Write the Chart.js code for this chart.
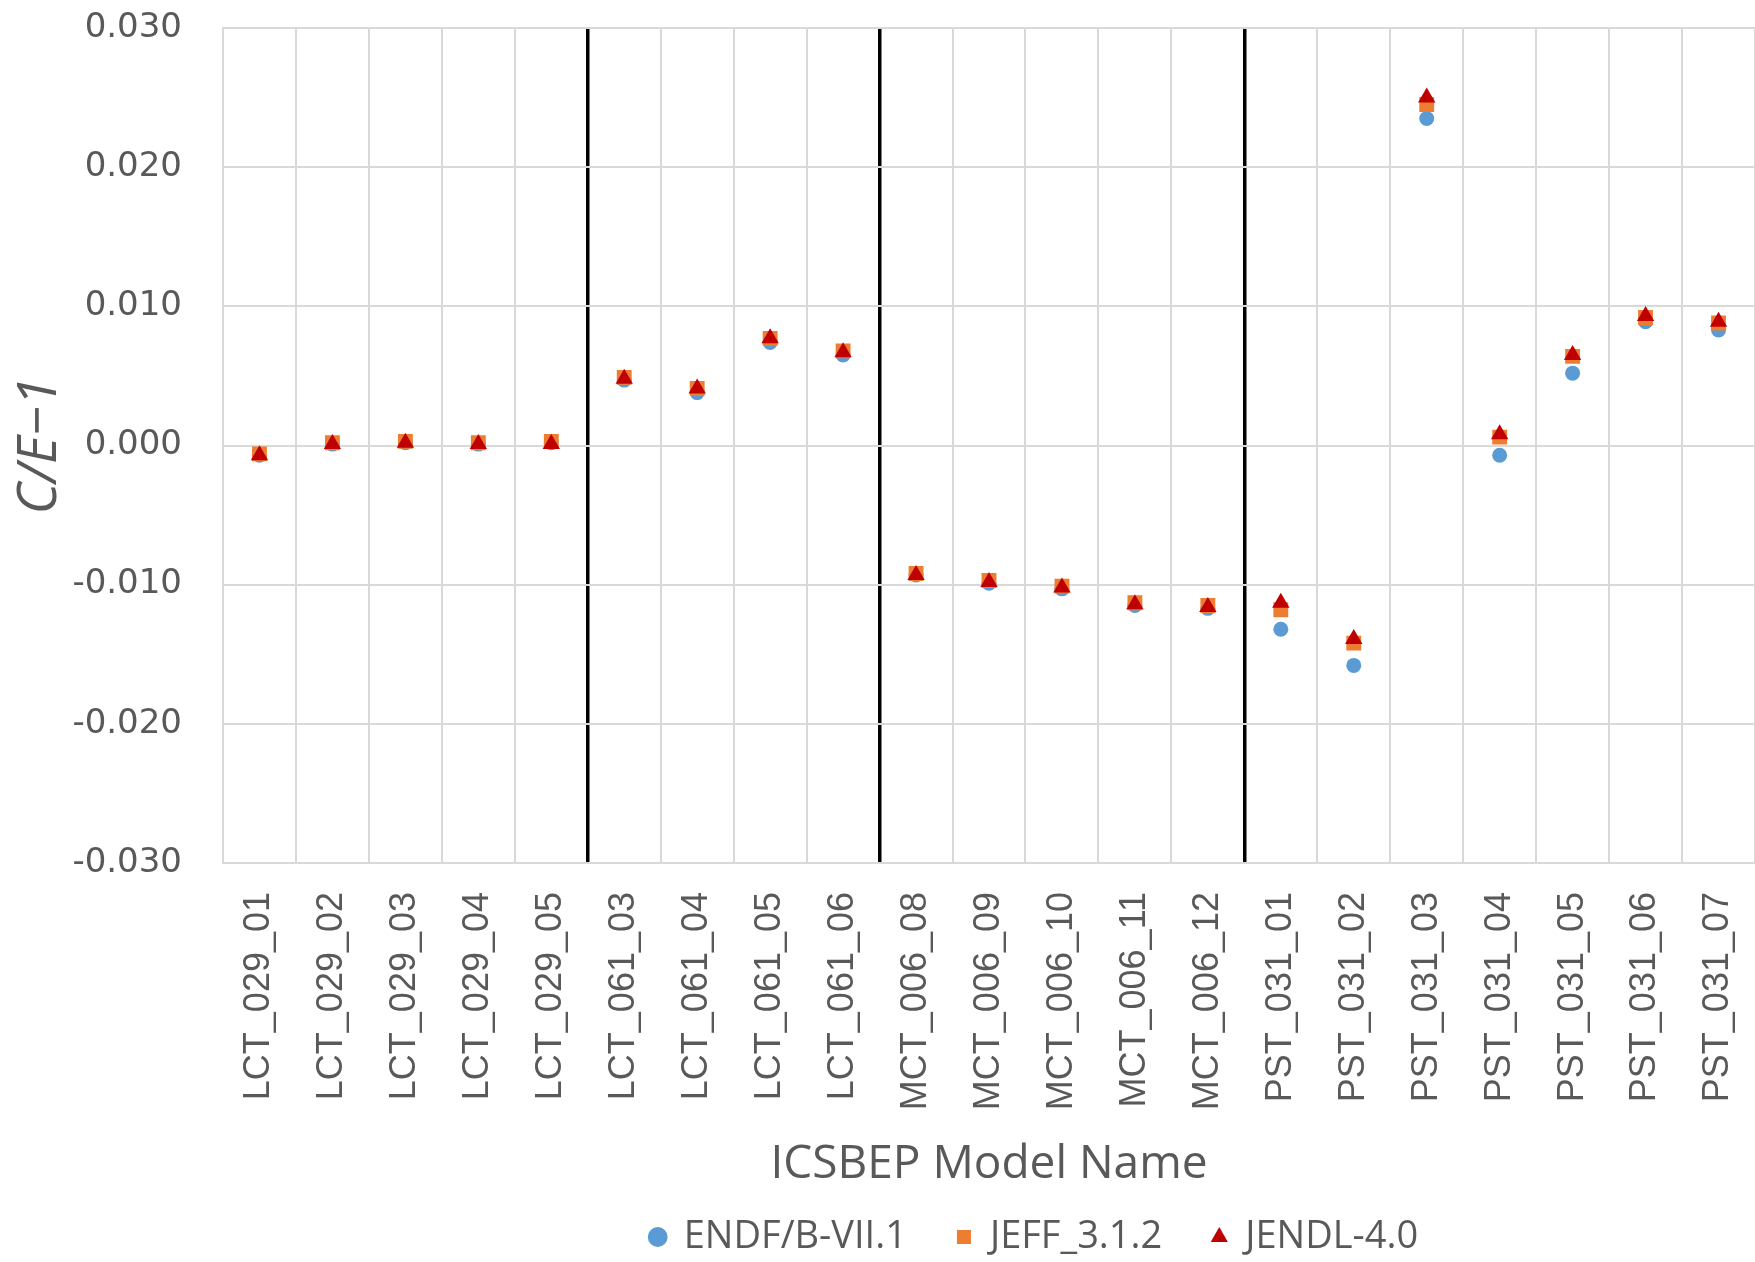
<!DOCTYPE html>
<html>
<head>
<meta charset="utf-8">
<script src="https://cdn.jsdelivr.net/npm/chart.js@4.4.1/dist/chart.umd.min.js"></script>
<style>
  html, body { margin: 0; padding: 0; background: #fff; }
  #wrap { width: 1755px; height: 1262px; }
</style>
</head>
<body>
<div id="wrap"><canvas id="ceChart" width="1755" height="1262"></canvas></div>
<script>
'use strict'

// benchmark models (x axis)
const categories = [
    'LCT_029_01', 'LCT_029_02', 'LCT_029_03', 'LCT_029_04', 'LCT_029_05',
    'LCT_061_03', 'LCT_061_04', 'LCT_061_05', 'LCT_061_06',
    'MCT_006_08', 'MCT_006_09', 'MCT_006_10', 'MCT_006_11', 'MCT_006_12',
    'PST_031_01', 'PST_031_02', 'PST_031_03', 'PST_031_04', 'PST_031_05', 'PST_031_06', 'PST_031_07'
];

// C/E-1 per library
const endfValues = [
    -0.0007, 0.0001, 0.0002, 0.0001, 0.0002,
    0.0047, 0.0038, 0.0074, 0.0065,
    -0.0093, -0.0099, -0.0103, -0.0115, -0.0117,
    -0.0132, -0.0158, 0.0235, -0.0007, 0.0052, 0.0089, 0.0083
];
const jeffValues = [
    -0.0006, 0.0002, 0.0003, 0.0002, 0.0003,
    0.0049, 0.0041, 0.0077, 0.0068,
    -0.0092, -0.0097, -0.0101, -0.0113, -0.0115,
    -0.0118, -0.0142, 0.0245, 0.0006, 0.0064, 0.0092, 0.0088
];
const jendlValues = [
    -0.0007, 0.0001, 0.0002, 0.0001, 0.0001,
    0.0048, 0.0041, 0.0077, 0.0067,
    -0.0093, -0.0098, -0.0102, -0.0114, -0.0116,
    -0.0113, -0.0139, 0.0250, 0.0008, 0.0065, 0.0093, 0.0089
];

const seriesNames = ['ENDF/B-VII.1', 'JEFF_3.1.2', 'JENDL-4.0'];

// y axis range and ticks
const yMin = -0.03;
const yMax = 0.03;
const yStep = 0.01;

// group separators (grid line index = left edge of that category)
const groupStarts = [5, 9, 14];

const textColor = '#595959';
const gridColor = '#d9d9d9';

// excel puts the legend a bit right of centre
const shiftLegend = {
    id: 'shiftLegend',
    afterLayout: function (chart) {
        chart.legend.left += 157;
        chart.legend.right += 157;
    }
};

const ctx = document.getElementById('ceChart');
const ceChart = new Chart(ctx, {
    type: 'line',
    data: {
        labels: categories,
        datasets: [
            {
                label: seriesNames[0],
                data: endfValues,
                showLine: false,
                pointStyle: 'circle',
                pointRadius: 7.5,
                pointHoverRadius: 7.5,
                pointBorderWidth: 0,
                backgroundColor: '#5b9bd5',
                borderColor: '#5b9bd5',
                order: 3
            },
            {
                label: seriesNames[1],
                data: jeffValues,
                showLine: false,
                pointStyle: 'rect',
                pointRadius: 10.5,
                pointHoverRadius: 10.5,
                pointBorderWidth: 0,
                backgroundColor: '#ed7d31',
                borderColor: '#ed7d31',
                order: 2
            },
            {
                label: seriesNames[2],
                data: jendlValues,
                showLine: false,
                pointStyle: 'triangle',
                pointRadius: 10,
                pointHoverRadius: 10,
                pointBorderWidth: 0,
                backgroundColor: '#c00000',
                borderColor: '#c00000',
                order: 1
            }
        ]
    },
    options: {
        responsive: false,
        animation: false,
        layout: {
            autoPadding: false,
            padding: { top: 28, left: 0, right: 0, bottom: -4 }
        },
        plugins: {
            legend: {
                position: 'bottom',
                labels: {
                    usePointStyle: true,
                    boxWidth: 14,
                    boxHeight: 14,
                    padding: 50,
                    color: textColor,
                    font: { family: 'Open Sans', size: 38 },
                    sort: function (a, b) { return a.datasetIndex - b.datasetIndex; }
                }
            },
            tooltip: { enabled: false }
        },
        scales: {
            x: {
                type: 'category',
                offset: true,
                grid: {
                    offset: true,
                    drawTicks: false,
                    color: function (c) {
                        return groupStarts.includes(c.index) ? '#000000' : gridColor;
                    },
                    lineWidth: function (c) {
                        return groupStarts.includes(c.index) ? 3.5 : 2;
                    }
                },
                border: { display: false },
                ticks: {
                    autoSkip: false,
                    minRotation: 90,
                    maxRotation: 90,
                    padding: 29,
                    color: textColor,
                    font: { family: 'Liberation Sans', size: 36 }
                },
                title: {
                    display: true,
                    text: 'ICSBEP Model Name',
                    color: textColor,
                    font: { family: 'Open Sans', size: 46 },
                    padding: { top: 0, bottom: -24 }
                },
                afterFit: function (scale) {
                    scale.height = 305;
                    scale.paddingLeft = 0;
                    scale.paddingRight = 0;
                }
            },
            y: {
                min: yMin,
                max: yMax,
                ticks: {
                    stepSize: yStep,
                    padding: 41,
                    color: textColor,
                    font: { family: 'DejaVu Sans', size: 34 },
                    callback: function (v) { return v.toFixed(3); }
                },
                grid: {
                    color: gridColor,
                    lineWidth: 2,
                    drawTicks: false
                },
                border: { color: gridColor, width: 2 },
                title: {
                    display: true,
                    text: 'C/E\u22121',
                    color: textColor,
                    font: { family: 'Open Sans', size: 54, style: 'italic' },
                    padding: { top: 8, bottom: 0 }
                },
                afterFit: function (scale) {
                    scale.width = 223;
                    scale.paddingTop = 0;
                    scale.paddingBottom = 0;
                }
            }
        }
    },
    plugins: [shiftLegend]
});
</script>
</body>
</html>
